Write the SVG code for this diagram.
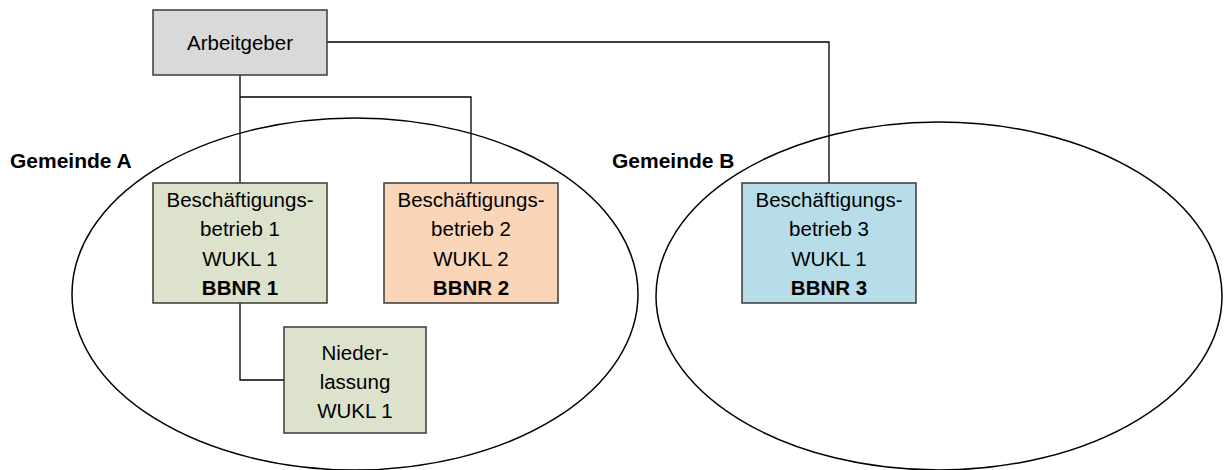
<svg xmlns="http://www.w3.org/2000/svg" width="1229" height="470" viewBox="0 0 1229 470">
<style>
.area{fill:none;stroke:#000;stroke-width:1.5}
.box{stroke:#3a3a3a;stroke-width:1.5}
.conn{fill:none;stroke:#000;stroke-width:1.3}
text{font-family:"Liberation Sans",Arial,sans-serif;font-size:20.5px;fill:#000;text-anchor:middle}
.b{font-weight:bold}
.lbl{font-size:21px;font-weight:bold;text-anchor:start}
</style>
<rect width="1229" height="470" fill="#fff"/>
<g id="gemeinde-a">
<ellipse class="area" cx="355" cy="294" rx="283" ry="176"/>
<text class="lbl" x="10" y="168">Gemeinde A</text>
</g>
<g id="gemeinde-b">
<ellipse class="area" cx="939" cy="296" rx="283" ry="174"/>
<text class="lbl" x="612" y="168">Gemeinde B</text>
</g>
<g id="connectors">
<polyline class="conn" points="240,75 240,183"/>
<polyline class="conn" points="240,97 471,97 471,183"/>
<polyline class="conn" points="327,42 829,42 829,183"/>
<polyline class="conn" points="240,303 240,380 284,380"/>
</g>
<g id="arbeitgeber">
<rect class="box" x="153" y="10" width="174" height="65" fill="#D9D9D9"/>
<text x="240" y="50">Arbeitgeber</text>
</g>
<g id="betrieb1">
<rect class="box" x="153" y="183" width="174" height="120" fill="#DDE2CD"/>
<text x="240" y="207">Beschäftigungs-</text>
<text x="240" y="236">betrieb 1</text>
<text x="240" y="266">WUKL 1</text>
<text class="b" x="240" y="295">BBNR 1</text>
</g>
<g id="betrieb2">
<rect class="box" x="384" y="183" width="174" height="120" fill="#FAD5B7"/>
<text x="471" y="207">Beschäftigungs-</text>
<text x="471" y="236">betrieb 2</text>
<text x="471" y="266">WUKL 2</text>
<text class="b" x="471" y="295">BBNR 2</text>
</g>
<g id="betrieb3">
<rect class="box" x="742" y="183" width="174" height="120" fill="#B7DDE8"/>
<text x="829" y="207">Beschäftigungs-</text>
<text x="829" y="236">betrieb 3</text>
<text x="829" y="266">WUKL 1</text>
<text class="b" x="829" y="295">BBNR 3</text>
</g>
<g id="niederlassung">
<rect class="box" x="284" y="327" width="142" height="106" fill="#DDE2CD"/>
<text x="355" y="360">Nieder-</text>
<text x="355" y="389">lassung</text>
<text x="355" y="418">WUKL 1</text>
</g>
</svg>
